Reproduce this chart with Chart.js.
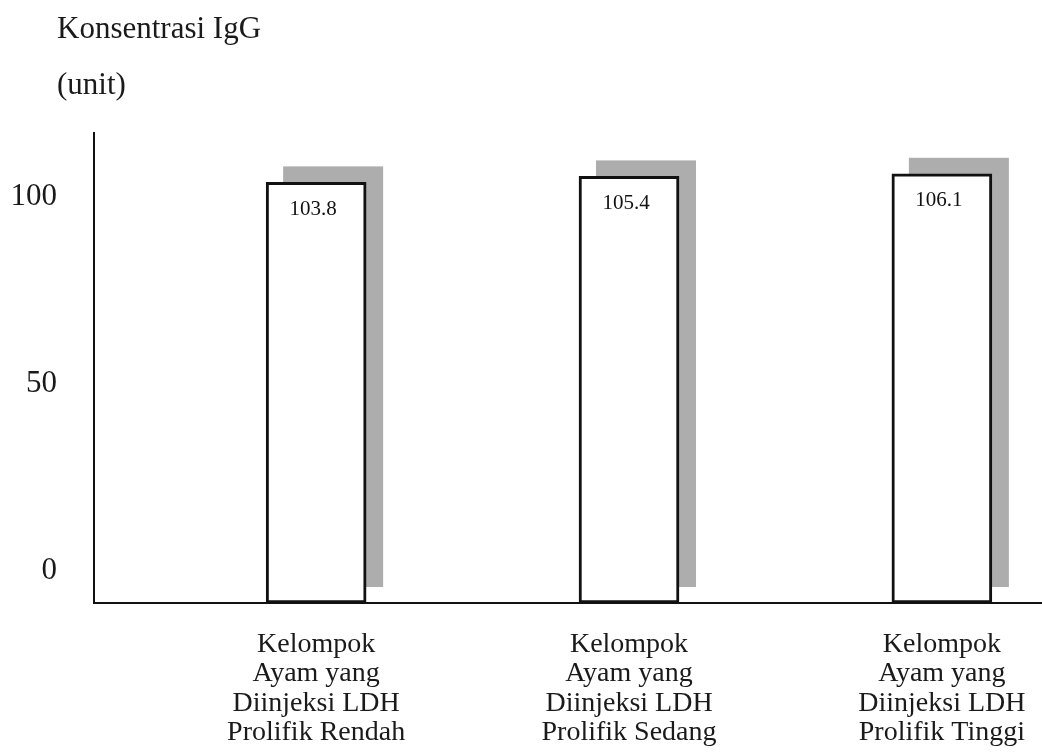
<!DOCTYPE html>
<html>
<head>
<meta charset="utf-8">
<script src="https://cdn.jsdelivr.net/npm/chart.js@4/dist/chart.umd.min.js"></script>
<style>
  html, body { margin: 0; padding: 0; background: #ffffff; }
  #wrap { width: 1042px; height: 753px; position: relative; }
</style>
</head>
<body>
<div id="wrap"><canvas id="c" width="1042" height="753"></canvas></div>
<script>
const categories = [
  ["Kelompok", "Ayam yang", "Diinjeksi LDH", "Prolifik Rendah"],
  ["Kelompok", "Ayam yang", "Diinjeksi LDH", "Prolifik Sedang"],
  ["Kelompok", "Ayam yang", "Diinjeksi LDH", "Prolifik Tinggi"]
];
const iggValues = [103.8, 105.4, 106.1];
const yTickValues = [0, 50, 100];
const titleLines = ["Konsentrasi IgG", "(unit)"];

const SERIF = '"Liberation Serif", "Times New Roman", serif';
const INK = '#1a1a1a';

const shadowPlugin = {
  id: 'barShadow',
  beforeDatasetsDraw(chart) {
    const ctx = chart.ctx;
    const meta = chart.getDatasetMeta(0);
    ctx.save();
    meta.data.forEach(bar => {
      const p = bar.getProps(['x', 'y', 'base', 'width'], true);
      const dx = 17, dy = -16;
      ctx.fillStyle = '#adadad';
      ctx.fillRect(p.x - p.width / 2 + dx, p.y + dy, p.width, p.base - p.y);
    });
    ctx.restore();
  }
};

const valueLabelPlugin = {
  id: 'valueLabels',
  afterDatasetsDraw(chart) {
    const ctx = chart.ctx;
    const meta = chart.getDatasetMeta(0);
    ctx.save();
    ctx.font = '21px ' + SERIF;
    ctx.fillStyle = '#111';
    ctx.textAlign = 'center';
    ctx.textBaseline = 'middle';
    meta.data.forEach((bar, i) => {
      const p = bar.getProps(['x', 'y'], true);
      ctx.fillText(iggValues[i].toFixed(1), p.x - 3, p.y + 27);
    });
    ctx.restore();
  }
};

const titlePlugin = {
  id: 'leftTitle',
  afterDraw(chart) {
    const ctx = chart.ctx;
    ctx.save();
    ctx.font = '31px ' + SERIF;
    ctx.fillStyle = INK;
    ctx.textAlign = 'left';
    ctx.textBaseline = 'alphabetic';
    ctx.fillText(titleLines[0], 57, 38);
    ctx.fillText(titleLines[1], 57, 94);
    ctx.restore();
  }
};

const bgPlugin = {
  id: 'bg',
  beforeDraw(chart) {
    const ctx = chart.ctx;
    ctx.save();
    ctx.fillStyle = '#ffffff';
    ctx.fillRect(0, 0, chart.width, chart.height);
    ctx.restore();
  }
};

new Chart(document.getElementById('c'), {
  type: 'bar',
  data: {
    datasets: [{
      data: iggValues.map((v, i) => ({ x: i + 1, y: v })),
      backgroundColor: '#ffffff',
      borderColor: '#111111',
      borderWidth: 3,
      borderSkipped: false,
      barThickness: 100,
      base: -8.6
    }]
  },
  options: {
    responsive: false,
    animation: false,
    layout: { padding: { top: 133, left: 0, right: 0, bottom: 0 } },
    plugins: {
      legend: { display: false },
      tooltip: { enabled: false },
      title: { display: false }
    },
    scales: {
      x: {
        type: 'linear',
        position: 'bottom',
        offset: false,
        min: 0.29,
        max: 3.32,
        afterBuildTicks(scale) {
          scale.ticks = categories.map((c, i) => ({ value: i + 1 }));
        },
        afterFit(scale) {
          scale.height = 150;
          scale.paddingLeft = 0;
          scale.paddingRight = 0;
        },
        grid: { display: false, drawTicks: false, offset: false },
        border: { display: true, color: '#111111', width: 2 },
        ticks: {
          autoSkip: false,
          maxRotation: 0,
          minRotation: 0,
          padding: 27,
          color: INK,
          font: { family: SERIF, size: 28, lineHeight: 1.05 },
          callback: (v) => categories[Math.round(v) - 1]
        }
      },
      y: {
        type: 'linear',
        min: -8.6,
        max: 117,
        afterBuildTicks(scale) {
          scale.ticks = yTickValues.map(v => ({ value: v }));
        },
        afterFit(scale) { scale.width = 94; },
        grid: { display: false, drawTicks: false },
        border: { display: true, color: '#111111', width: 2 },
        ticks: {
          padding: 37,
          color: INK,
          font: { family: SERIF, size: 31 }
        }
      }
    }
  },
  plugins: [bgPlugin, shadowPlugin, valueLabelPlugin, titlePlugin]
});
</script>
</body>
</html>
